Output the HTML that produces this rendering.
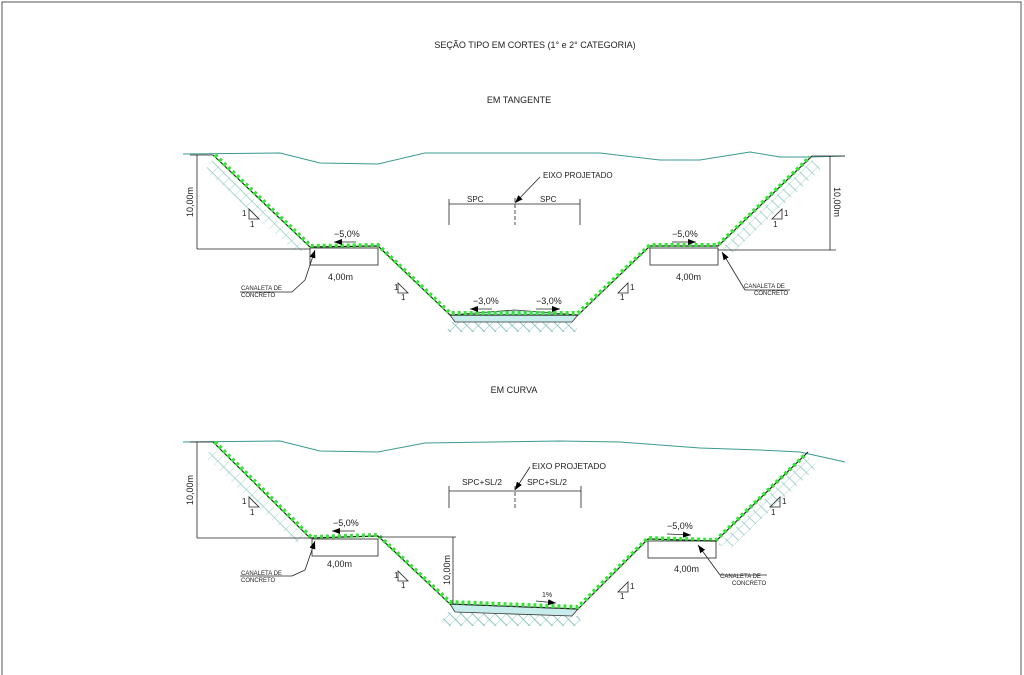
<!DOCTYPE html>
<html><head><meta charset="utf-8"><style>
html,body{margin:0;padding:0;background:#fff;}
svg{display:block;font-family:"Liberation Sans",sans-serif;}
</style></head><body>
<svg width="1024" height="675" viewBox="0 0 1024 675" xmlns="http://www.w3.org/2000/svg">
<defs>
<pattern id="hat" width="8" height="8" patternUnits="userSpaceOnUse" patternTransform="rotate(45)">
<line x1="0" y1="0" x2="0" y2="8" stroke="#4aa8a0" stroke-width="0.8"/>
<line x1="0" y1="4" x2="8" y2="4" stroke="#4aa8a0" stroke-width="0.8"/>
</pattern>
<marker id="ar" markerWidth="8" markerHeight="6" refX="8" refY="3" orient="auto" markerUnits="userSpaceOnUse"><path d="M0,0 L8,3 L0,6z" fill="#000"/></marker>
</defs>
<rect x="2" y="2" width="1019" height="680" fill="none" stroke="#555" stroke-width="1"/>
<g font-size="9" fill="#222" text-anchor="middle">
<text x="535" y="48">SEÇÃO TIPO EM CORTES (1° e 2° CATEGORIA)</text>
<text x="519" y="103">EM TANGENTE</text>
<text x="514" y="393">EM CURVA</text>
</g>

<!-- ===== TOP SECTION ===== -->
<g>
<polyline points="183,154 280,153 320,163 378,164 425,153 600,153 660,160 700,160 750,152 780,157 810,157 845,156" fill="none" stroke="#3a9a90" stroke-width="1"/>
<polygon points="213,160 308,250 295,252 205,170" fill="url(#hat)" opacity="0.6"/>
<polygon points="812,160 720,250 733,252 822,168" fill="url(#hat)" opacity="0.6"/>
<polygon points="452,322 572,322 580,332 446,332" fill="url(#hat)" opacity="0.8"/>
<polygon points="450,315 515,310 578,315 572,322 455,322" fill="#c8ecec" stroke="#333" stroke-width="0.8"/>
<polyline points="213,155 310,247 378,246 450,315 578,315 650,246 718,246 812,156" fill="none" stroke="#222" stroke-width="1.2"/>
<polyline points="215,155 311,246 378,245 450,313 578,313 650,245 718,245 810,157" fill="none" stroke="#33e633" stroke-width="4" stroke-dasharray="3,3"/>
<rect x="310" y="248" width="68" height="17" fill="none" stroke="#222" stroke-width="0.8"/>
<rect x="650" y="248" width="68" height="17" fill="none" stroke="#222" stroke-width="0.8"/>
<g stroke="#222" stroke-width="0.8" fill="none">
<line x1="197" y1="155" x2="197" y2="249"/><line x1="190" y1="155" x2="213" y2="155"/><line x1="197" y1="249" x2="310" y2="249"/>
<line x1="830" y1="156" x2="830" y2="250"/><line x1="812" y1="156" x2="845" y2="156"/><line x1="718" y1="250" x2="836" y2="250"/>
<line x1="449" y1="199" x2="449" y2="225"/><line x1="580" y1="199" x2="580" y2="225"/><line x1="515" y1="198" x2="515" y2="225" stroke-dasharray="4,2"/>
<line x1="449" y1="204" x2="580" y2="204"/>
<line x1="540" y1="177" x2="515" y2="203" marker-end="url(#ar)"/>
<line x1="305" y1="280" x2="315" y2="250" marker-end="url(#ar)"/><line x1="240" y1="292" x2="292" y2="292"/><line x1="292" y1="292" x2="305" y2="280"/>
<line x1="745" y1="290" x2="722" y2="252" marker-end="url(#ar)"/><line x1="745" y1="290" x2="790" y2="290"/>
<line x1="356" y1="242" x2="334" y2="242" marker-end="url(#ar)"/>
<line x1="672" y1="242" x2="696" y2="242" marker-end="url(#ar)"/>
<line x1="492" y1="309" x2="470" y2="309" marker-end="url(#ar)"/>
<line x1="536" y1="309" x2="560" y2="309" marker-end="url(#ar)"/>
</g>
<g font-size="9" fill="#222">
<text transform="translate(193,202) rotate(-90)" text-anchor="middle">10,00m</text>
<text transform="translate(834,202) rotate(90)" text-anchor="middle">10,00m</text>
<text x="467" y="202" font-size="8">SPC</text><text x="540" y="202" font-size="8">SPC</text>
<text x="543" y="178" font-size="8">EIXO PROJETADO</text>
<text x="334" y="237">−5,0%</text><text x="672" y="237">−5,0%</text>
<text x="473" y="304">−3,0%</text><text x="536" y="304">−3,0%</text>
<text x="328" y="280">4,00m</text><text x="676" y="280">4,00m</text>
<text x="241" y="290" font-size="6">CANALETA DE</text><text x="241" y="297" font-size="6">CONCRETO</text>
<text x="744" y="288" font-size="6">CANALETA DE</text><text x="754" y="295" font-size="6">CONCRETO</text>
</g>
</g>

<!-- ===== BOTTOM SECTION ===== -->
<g>
<polyline points="183,442 280,441 320,451 378,452 425,443 560,441 620,442 700,448 760,450 800,452 845,462" fill="none" stroke="#3a9a90" stroke-width="1"/>
<polygon points="213,447 308,540 295,542 205,457" fill="url(#hat)" opacity="0.6"/>
<polygon points="808,456 718,545 731,548 818,466" fill="url(#hat)" opacity="0.6"/>
<polygon points="446,612 578,616 584,626 440,626" fill="url(#hat)" opacity="0.8"/>
<polygon points="450,604 578,609 572,616 455,612" fill="#c8ecec" stroke="#333" stroke-width="0.8"/>
<polyline points="213,442 310,538 378,536 450,604 578,609 648,539 716,541 808,452" fill="none" stroke="#222" stroke-width="1.2"/>
<polyline points="215,442 311,537 378,535 450,602 578,607 648,538 716,540 806,454" fill="none" stroke="#33e633" stroke-width="4" stroke-dasharray="3,3"/>
<rect x="312" y="539" width="66" height="17" fill="none" stroke="#222" stroke-width="0.8"/>
<rect x="648" y="541" width="68" height="17" fill="none" stroke="#222" stroke-width="0.8"/>
<g stroke="#222" stroke-width="0.8" fill="none">
<line x1="197" y1="442" x2="197" y2="538"/><line x1="190" y1="442" x2="213" y2="442"/><line x1="197" y1="538" x2="310" y2="538"/>
<line x1="453" y1="537" x2="453" y2="604"/><line x1="378" y1="537" x2="456" y2="537"/>
<line x1="449" y1="486" x2="449" y2="508"/><line x1="581" y1="486" x2="581" y2="508"/><line x1="515" y1="486" x2="515" y2="508" stroke-dasharray="4,2"/>
<line x1="449" y1="491" x2="581" y2="491"/>
<line x1="530" y1="467" x2="515" y2="490" marker-end="url(#ar)"/>
<line x1="305" y1="570" x2="315" y2="541" marker-end="url(#ar)"/><line x1="240" y1="576" x2="292" y2="576"/><line x1="292" y1="576" x2="305" y2="570"/>
<line x1="720" y1="575" x2="698" y2="545" marker-end="url(#ar)"/><line x1="720" y1="575" x2="767" y2="575"/>
<line x1="355" y1="531" x2="332" y2="531" marker-end="url(#ar)"/>
<line x1="667" y1="534" x2="691" y2="535" marker-end="url(#ar)"/>
<line x1="536" y1="601" x2="556" y2="603" marker-end="url(#ar)"/>
</g>
<g font-size="9" fill="#222">
<text transform="translate(193,490) rotate(-90)" text-anchor="middle">10,00m</text>
<text transform="translate(450,570) rotate(-90)" text-anchor="middle">10,00m</text>
<text x="462" y="485" font-size="8.5">SPC+SL/2</text><text x="527" y="485" font-size="8.5">SPC+SL/2</text>
<text x="532" y="469" font-size="8.5">EIXO PROJETADO</text>
<text x="333" y="526">−5,0%</text><text x="667" y="529">−5,0%</text>
<text x="542" y="597" font-size="7">1%</text>
<text x="327" y="567">4,00m</text><text x="674" y="572">4,00m</text>
<text x="241" y="575" font-size="6">CANALETA DE</text><text x="241" y="582" font-size="6">CONCRETO</text>
<text x="720" y="578" font-size="6">CANALETA DE</text><text x="732" y="585" font-size="6">CONCRETO</text>
</g>
</g>

<g stroke="#222" stroke-width="0.8" fill="none" font-size="8">
<path d="M249,209 L249,219 L259,219 Z"/><path d="M398,283 L398,293 L408,293 Z"/>
<path d="M628,283 L628,293 L618,293 Z"/><path d="M782,209 L782,219 L772,219 Z"/>
<path d="M249,497 L249,507 L259,507 Z"/><path d="M398,571 L398,581 L408,581 Z"/>
<path d="M628,582 L628,592 L618,592 Z"/><path d="M780,497 L780,507 L770,507 Z"/>
</g>
<g font-size="8" fill="#222">
<text x="242" y="216">1</text><text x="250" y="227">1</text>
<text x="394" y="290">1</text><text x="401" y="300">1</text>
<text x="630" y="290">1</text><text x="620" y="300">1</text>
<text x="784" y="216">1</text><text x="773" y="227">1</text>
<text x="242" y="504">1</text><text x="250" y="515">1</text>
<text x="394" y="578">1</text><text x="401" y="588">1</text>
<text x="630" y="589">1</text><text x="620" y="599">1</text>
<text x="782" y="504">1</text><text x="771" y="515">1</text>
</g>
</svg>
</body></html>
